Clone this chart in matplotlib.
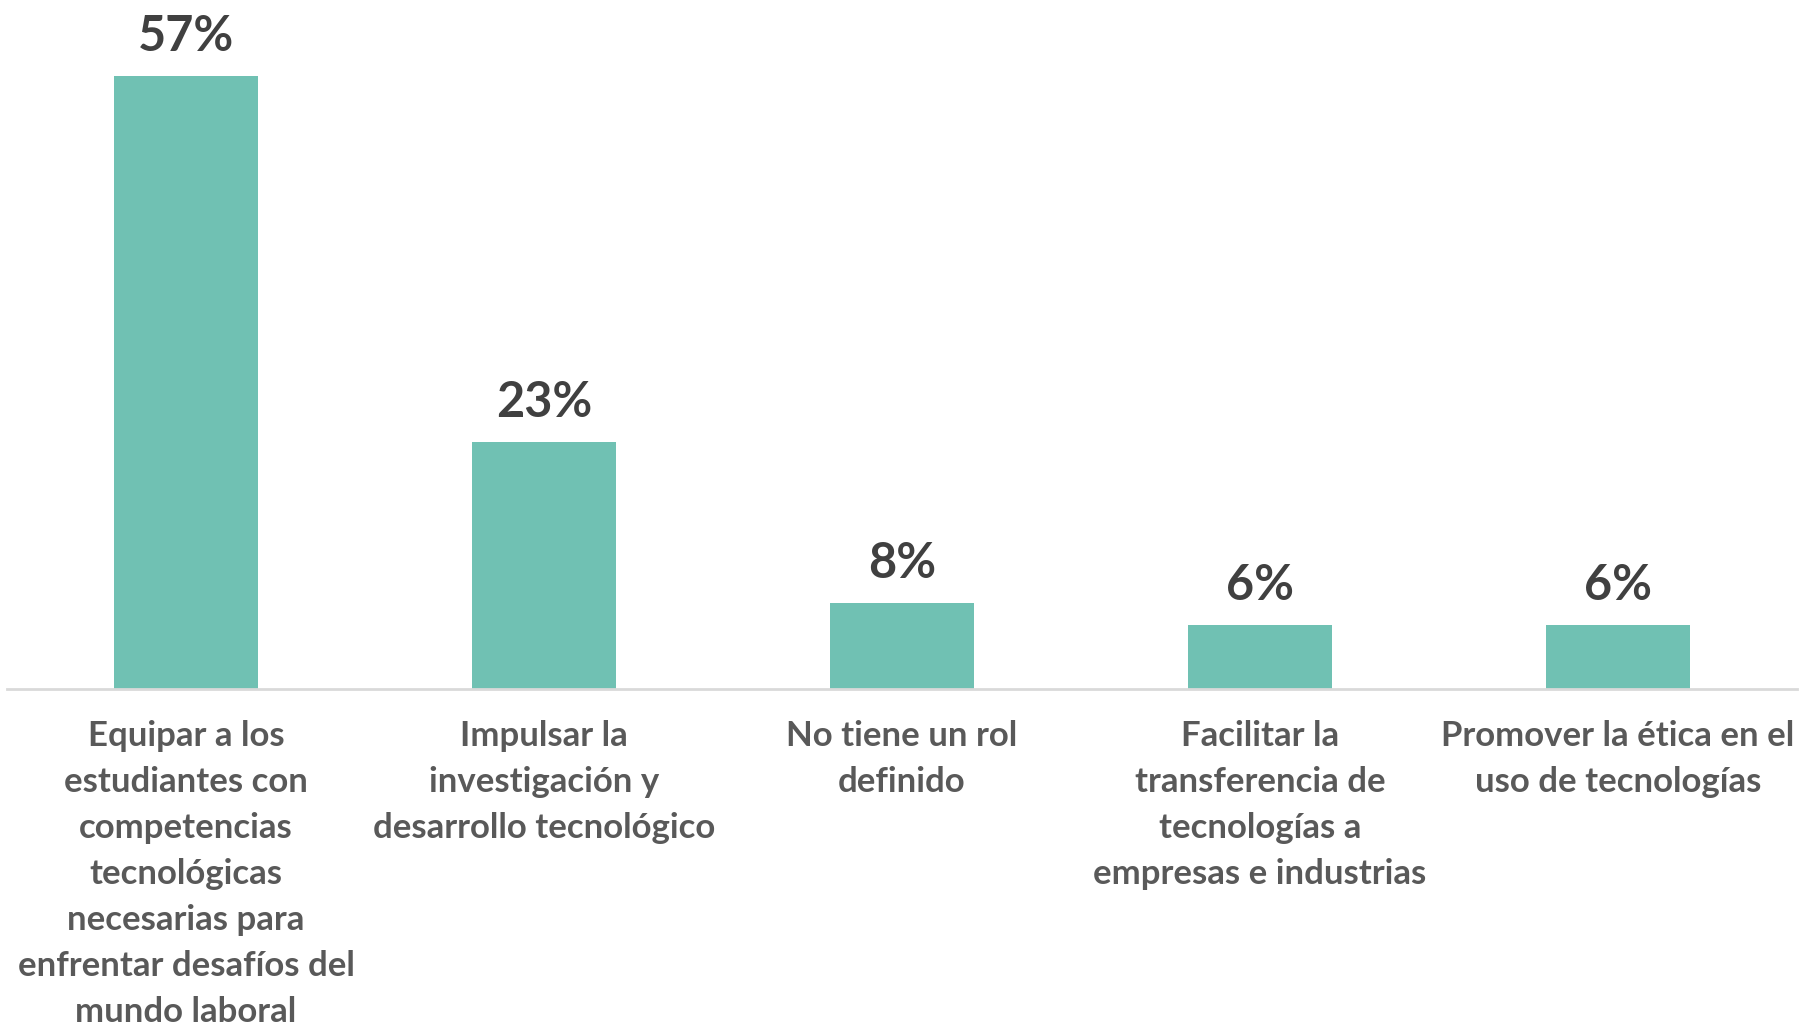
import matplotlib
matplotlib.use("Agg")
import matplotlib.pyplot as plt

categories = [
    "Equipar a los\nestudiantes con\ncompetencias\ntecnológicas\nnecesarias para\nenfrentar desafíos del\nmundo laboral",
    "Impulsar la\ninvestigación y\ndesarrollo tecnológico",
    "No tiene un rol\ndefinido",
    "Facilitar la\ntransferencia de\ntecnologías a\nempresas e industrias",
    "Promover la ética en el\nuso de tecnologías",
]
values = [57, 23, 8, 6, 6]
value_labels = ["57%", "23%", "8%", "6%", "6%"]

plt.rcParams['font.family'] = ['Lato', 'DejaVu Sans']

fig = plt.figure(figsize=(18, 10.26), dpi=100)
ax = fig.add_axes([7/1800, 1 - 689/1026, 1790/1800, (689 - 44)/1026])

x = list(range(len(values)))
ax.bar(x, values, width=0.4, color="#70C1B3", zorder=2)
ax.set_xlim(-0.5, len(values) - 0.5)
ax.set_ylim(0, 60)

for xi, v, lab in zip(x, values, value_labels):
    ax.annotate(lab, (xi, v), xytext=(0, 18), textcoords="offset points",
                ha="center", va="baseline", fontsize=35, fontweight="bold",
                color="#404040", annotation_clip=False)

for xi, cat in zip(x, categories):
    ax.annotate(cat, (xi, 0), xytext=(0, -22), textcoords="offset points",
                ha="center", va="top", fontsize=25, fontweight="bold",
                color="#595959", linespacing=1.54, annotation_clip=False)

for s in ["top", "right", "left"]:
    ax.spines[s].set_visible(False)
ax.spines["bottom"].set_color("#D9D9D9")
ax.spines["bottom"].set_linewidth(2)
ax.set_xticks([])
ax.set_yticks([])

fig.savefig("out.png", dpi=100)
